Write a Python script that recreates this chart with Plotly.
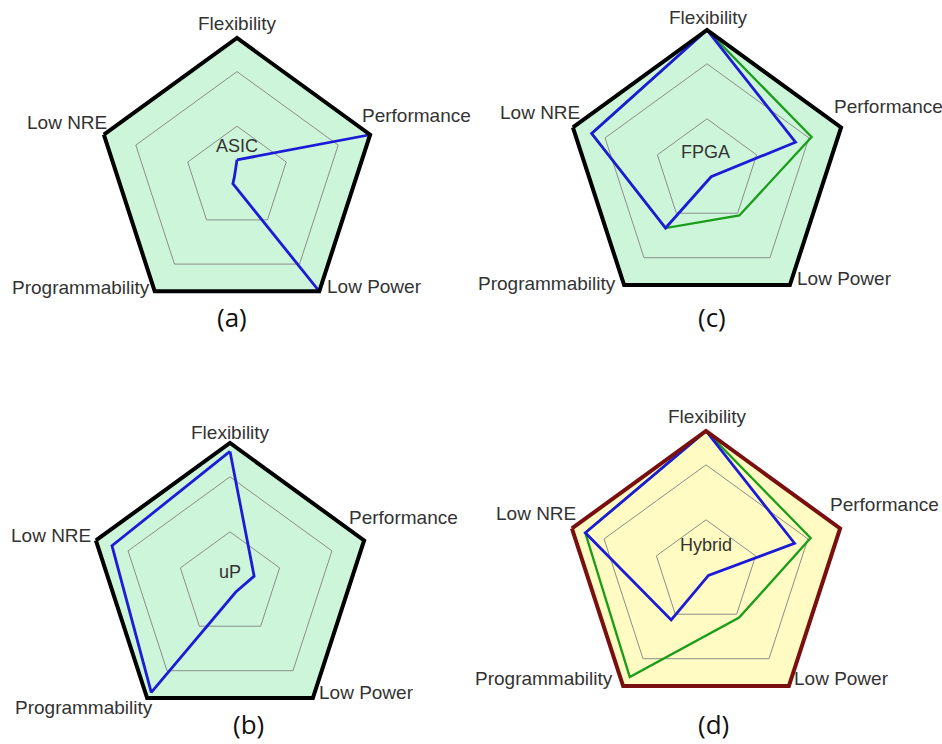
import plotly.graph_objects as go

W, H = 942, 744

categories = ["Flexibility", "Performance", "Low Power", "Programmability", "Low NRE"]

asic_blue = [0.13, 1.0, 1.0, 0.05, 0.02]
fpga_green = [1.0, 0.78, 0.39, 0.50, 0.86]
fpga_blue = [1.0, 0.66, 0.05, 0.50, 0.86]
up_blue = [0.94, 0.18, 0.07, 0.95, 0.88]
hybrid_green = [1.0, 0.78, 0.40, 0.92, 0.90]
hybrid_blue = [1.0, 0.66, 0.03, 0.42, 0.90]

panel_names = ["ASIC", "FPGA", "uP", "Hybrid"]
captions = ["(a)", "(c)", "(b)", "(d)"]
ring_values = [0.37, 0.76]

BLUE = "#1c1cd8"
GREEN = "#1a9e1a"
LABEL = "#333333"

# panel geometry in pixels: center x, center y, radius
panels = {
    "polar": dict(cx=237, cy=178, R=140, bg="#cdf5da", line="#000000"),
    "polar2": dict(cx=707, cy=171, R=141, bg="#cdf5da", line="#000000"),
    "polar3": dict(cx=230, cy=584, R=141, bg="#cdf5da", line="#000000"),
    "polar4": dict(cx=706, cy=572, R=141, bg="#fffbc2", line="#7a0f0f"),
}

fig = go.Figure()


def closed(vals):
    return list(vals) + [vals[0]]


theta = closed(categories)

series = [
    ("polar", asic_blue, BLUE, 2.8),
    ("polar2", fpga_green, GREEN, 2.3),
    ("polar2", fpga_blue, BLUE, 2.8),
    ("polar3", up_blue, BLUE, 2.8),
    ("polar4", hybrid_green, GREEN, 2.3),
    ("polar4", hybrid_blue, BLUE, 2.8),
]
for sub, vals, col, w in series:
    fig.add_trace(go.Scatterpolar(
        r=closed(vals), theta=theta, mode="lines", subplot=sub,
        line=dict(color=col, width=w), showlegend=False, hoverinfo="skip",
    ))

layout = dict(width=W, height=H, margin=dict(l=0, r=0, t=0, b=0),
              paper_bgcolor="white", plot_bgcolor="white", showlegend=False)

for key, p in panels.items():
    cx, cy, R = p["cx"], p["cy"], p["R"]
    layout[key] = dict(
        domain=dict(x=[(cx - R) / W, (cx + R) / W], y=[1 - (cy + R) / H, 1 - (cy - R) / H]),
        gridshape="linear",
        bgcolor=p["bg"],
        radialaxis=dict(range=[0, 1], tickvals=ring_values, showticklabels=False, ticks="",
                        showline=False, gridcolor="#8a8f8a", gridwidth=1),
        angularaxis=dict(type="category", categoryarray=categories, rotation=90,
                         direction="clockwise", showticklabels=False, ticks="",
                         showgrid=False, showline=True, linecolor=p["line"], linewidth=4),
    )

fig.update_layout(**layout)

FONT = "Liberation Sans, Arial, sans-serif"


def ann(text, x, y, xanchor="center", size=19, font=FONT, color=LABEL):
    fig.add_annotation(text=text, x=x / W, y=1 - y / H, xref="paper", yref="paper",
                       xanchor=xanchor, yanchor="middle", showarrow=False,
                       font=dict(family=font, size=size, color=color))


# axis labels: (x, y, anchor) per panel in pixel positions
label_pos = [
    [(237, 24, "center"), (360, 116, "left"), (325, 286, "left"), (152, 287, "right"), (109, 123, "right")],
    [(708, 18, "center"), (832, 107, "left"), (795, 278, "left"), (618, 283, "right"), (582, 113, "right")],
    [(230, 432, "center"), (347, 517, "left"), (317, 692, "left"), (155, 707, "right"), (93, 535, "right")],
    [(707, 417, "center"), (828, 505, "left"), (792, 678, "left"), (615, 678, "right"), (578, 513, "right")],
]
for plist in label_pos:
    for cat, (x, y, anc) in zip(categories, plist):
        ann(cat, x, y, anc)

center_pos = [(237, 146), (705, 152), (230, 572), (706, 545)]
for name, (x, y) in zip(panel_names, center_pos):
    ann(name, x, y, size=18)

caption_pos = [(232, 317), (712, 317), (248, 724), (713, 724)]
for cap, (x, y) in zip(captions, caption_pos):
    ann(cap, x, y, size=26, font="Open Sans, Lato, sans-serif", color="#111111")

fig.write_html("out.html", config={"displayModeBar": False},
               post_script="document.body.style.margin='0';document.body.style.overflow='hidden';")
